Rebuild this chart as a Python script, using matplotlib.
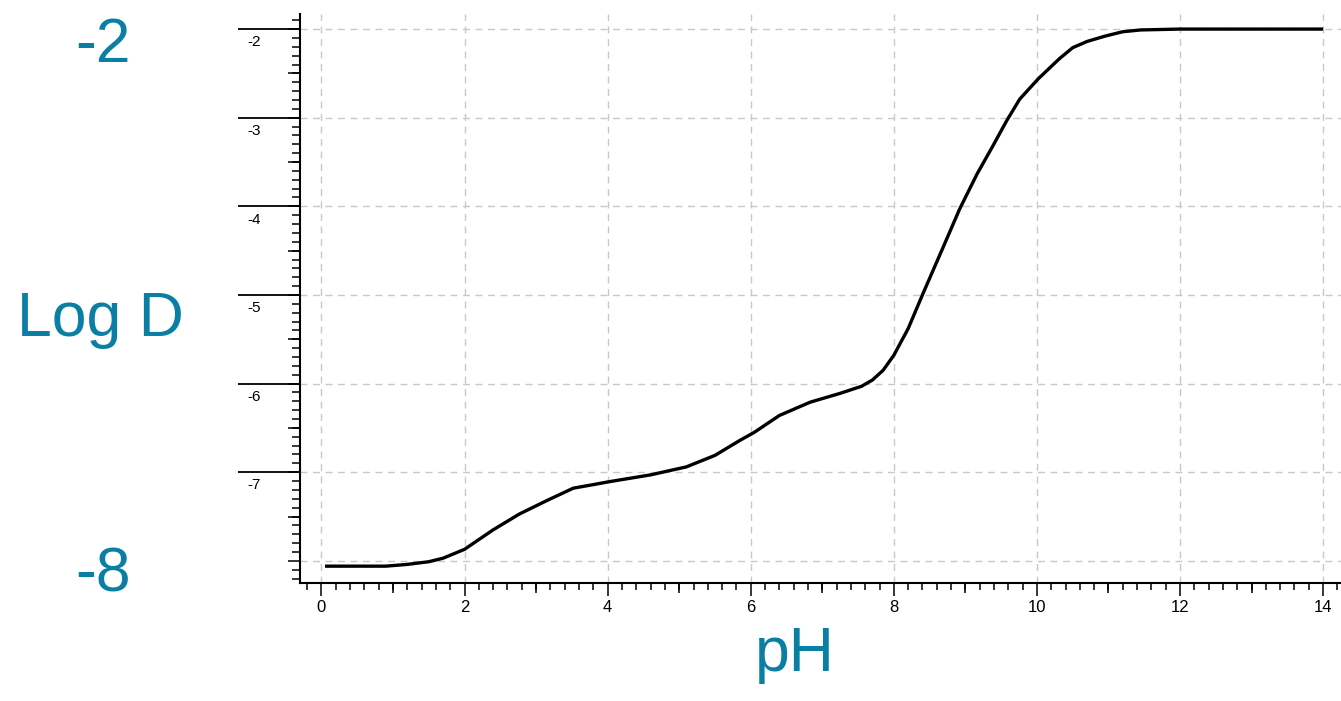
import matplotlib
matplotlib.use("Agg")
import matplotlib.pyplot as plt
from matplotlib.ticker import MultipleLocator, FixedLocator, NullFormatter

plt.rcParams['font.family'] = ['Liberation Sans', 'DejaVu Sans']

# ---- data ----
ph = [0.05, 0.9, 1.2, 1.5, 1.7, 2.0, 2.4, 2.77, 3.15, 3.52, 3.8, 4.0, 4.6, 5.1, 5.5,
      5.85, 6.05, 6.4, 6.83, 7.25, 7.55, 7.7, 7.85, 8.0, 8.2, 8.41, 8.69, 8.92,
      9.16, 9.39, 9.58, 9.76, 10.02, 10.32, 10.5, 10.7, 10.95, 11.2, 11.45, 12.0, 14.0]
logd = [-8.06, -8.06, -8.04, -8.01, -7.97, -7.87, -7.65, -7.47, -7.32, -7.18, -7.14,
        -7.11, -7.03, -6.94, -6.81, -6.64, -6.55, -6.36, -6.21, -6.11, -6.03,
        -5.96, -5.85, -5.68, -5.38, -4.98, -4.46, -4.03, -3.64, -3.31, -3.03,
        -2.79, -2.56, -2.33, -2.21, -2.14, -2.08, -2.03, -2.01, -2.00, -2.00]
x_major = [0, 2, 4, 6, 8, 10, 12, 14]
x_medium = [1, 3, 5, 7, 9, 11, 13]
y_grid = [-8, -7, -6, -5, -4, -3, -2]
y_labeled = [-7, -6, -5, -4, -3, -2]
y_medium = [-7.5, -6.5, -5.5, -4.5, -3.5, -2.5]

BLUE = '#0b7fa3'
W, H = 1341, 701
fig = plt.figure(figsize=(W / 100, H / 100), dpi=100)
ax = fig.add_axes([300 / W, 1 - 583 / H, 1 - 300 / W, (583 - 14) / H])

ax.plot(ph, logd, color='black', lw=2.4, solid_capstyle='butt', zorder=3)

ax.set_xlim(-0.30, 14.25)
ax.set_ylim(-8.25, -1.83)

for s in ['top', 'right']:
    ax.spines[s].set_visible(False)
for s in ['left', 'bottom']:
    ax.spines[s].set_linewidth(1.5)

# x ticks
ax.xaxis.set_major_locator(FixedLocator(x_major))
ax.xaxis.set_minor_locator(MultipleLocator(0.2))
ax.set_xticklabels([str(v) for v in x_major])
ax.tick_params(axis='x', which='major', length=9.5, width=1.1, labelsize=12, pad=3)
ax.tick_params(axis='x', which='minor', length=5, width=1.1)
secx = ax.secondary_xaxis('bottom')
secx.set_xticks(x_medium)
secx.xaxis.set_major_formatter(NullFormatter())
secx.tick_params(length=7, width=1.1)
secx.spines['bottom'].set_visible(False)

# y ticks
ax.yaxis.set_major_locator(FixedLocator(y_grid))
ax.yaxis.set_minor_locator(MultipleLocator(0.1))
ax.yaxis.set_major_formatter(NullFormatter())
ax.tick_params(axis='y', which='major', length=9, width=1.1)
ax.tick_params(axis='y', which='minor', length=6, width=1.1)
secy1 = ax.secondary_yaxis('left')
secy1.set_yticks(y_medium)
secy1.yaxis.set_major_formatter(NullFormatter())
secy1.tick_params(length=9, width=1.1)
secy1.spines['left'].set_visible(False)
secy2 = ax.secondary_yaxis('left')
secy2.set_yticks(y_labeled)
secy2.yaxis.set_major_formatter(NullFormatter())
secy2.tick_params(length=45, width=1.3)
secy2.spines['left'].set_visible(False)

for v in y_labeled:
    ax.annotate(str(v), xy=(0, v), xycoords=('axes fraction', 'data'),
                xytext=(-33, -9.5), textcoords='offset points',
                ha='center', va='center', fontsize=11, annotation_clip=False)

ax.grid(True, which='major', color='#c8c8c8', linestyle=(0, (5, 4)), linewidth=1.0)
ax.set_axisbelow(True)

# big blue labels
fig.text(103 / W, 1 - 46 / H, '-2', color=BLUE, fontsize=45, ha='center', va='center')
fig.text(103 / W, 1 - 575 / H, '-8', color=BLUE, fontsize=45, ha='center', va='center')
fig.text(100 / W, 1 - 313 / H, 'Log D', color=BLUE, fontsize=45, ha='center', va='center_baseline')
fig.text(795 / W, 1 - 648 / H, 'pH', color=BLUE, fontsize=45, ha='center', va='center_baseline')

fig.savefig('out.png', dpi=100)
